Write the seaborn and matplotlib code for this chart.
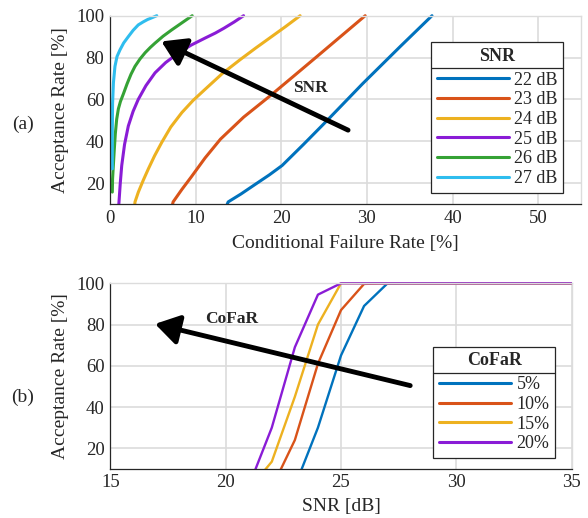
import numpy as np
import pandas as pd
import matplotlib
matplotlib.use("Agg")
import matplotlib.pyplot as plt
from matplotlib.lines import Line2D
from matplotlib.patches import Rectangle
import seaborn as sns

# ---------------- datos (a): tasa de aceptación vs. tasa de fallo condicional
snr_labels = ["22 dB", "23 dB", "24 dB", "25 dB", "26 dB", "27 dB"]

far_22 = [13.6, 13.8, 15.3, 17.0, 18.6, 20.1, 22.6, 25.3, 29.5, 33.9, 37.6]
acc_22 = [9.0, 11.0, 14.8, 19.5, 23.9, 28.4, 38.5, 49.7, 67.5, 85.3, 100.0]

far_23 = [7.2, 7.37, 8.4, 9.5, 11.1, 12.9, 15.6, 18.7, 21.5, 24.2, 27.0, 29.8]
acc_23 = [8.0, 11.0, 17.0, 23.0, 32.0, 41.0, 51.5, 61.7, 71.3, 80.6, 90.3, 100.0]

far_24 = [2.85, 2.92, 3.31, 3.9, 4.48, 5.2, 6.05, 7.1, 8.39, 9.7, 11.1, 13.1, 15.2, 17.0, 18.7, 20.5, 22.2]
acc_24 = [8.0, 11.0, 15.7, 21.5, 26.8, 33.0, 39.5, 46.8, 53.7, 59.5, 64.8, 72.3, 79.0, 84.5, 89.5, 94.8, 100.0]

far_25 = [1.0, 1.05, 1.2, 1.37, 1.7, 2.14, 2.7, 3.3, 4.2, 5.26, 6.5, 8.0, 9.5, 11.1, 12.3, 13.3, 14.5, 15.6]
acc_25 = [8.0, 11.0, 20.0, 28.4, 38.5, 47.3, 54.3, 60.0, 66.6, 72.7, 77.6, 82.2, 86.0, 89.3, 91.7, 94.0, 97.0, 100.0]

far_26 = [0.27, 0.3, 0.39, 0.5, 0.62, 0.78, 0.98, 1.22, 1.56, 2.0, 2.45, 2.92, 3.5, 4.1, 4.7, 5.26, 6.2, 7.2, 8.4, 9.6]
acc_26 = [15.7, 22.0, 28.4, 36.0, 43.5, 50.5, 55.5, 59.0, 62.6, 67.5, 72.0, 75.8, 79.3, 82.3, 84.8, 86.9, 90.2, 93.2, 96.6, 100.0]

far_27 = [0.27, 0.27, 0.3, 0.4, 0.58, 0.82, 1.17, 1.6, 2.14, 2.7, 3.3, 3.9, 4.4, 5.0, 5.46]
acc_27 = [26.8, 45.0, 58.0, 68.0, 75.8, 80.5, 83.7, 87.0, 90.0, 93.0, 95.6, 97.1, 98.2, 99.2, 100.0]

# ---------------- datos (b): tasa de aceptación vs. SNR
cofar_labels = ["5%", "10%", "15%", "20%"]
snr_db = [20, 21, 22, 23, 24, 25, 26, 27, 28, 29, 30, 31, 32, 33, 34, 35]
acc_5 = [0, 0, 0, 1.5, 30, 65, 89, 99.8, 100, 100, 100, 100, 100, 100, 100, 100]
acc_10 = [0, 0, 0.7, 24, 61, 87, 99.7, 100, 100, 100, 100, 100, 100, 100, 100, 100]
acc_15 = [0, 0, 13.5, 45, 80, 100, 100, 100, 100, 100, 100, 100, 100, 100, 100, 100]
acc_20 = [0, 1.5, 30, 69, 94.5, 100, 100, 100, 100, 100, 100, 100, 100, 100, 100, 100]

colores_a = ["#0072BD", "#D95319", "#EDB120", "#8A1CD6", "#35A235", "#2FBDEE"]
colores_b = colores_a[:4]

sns.set_style("white")
plt.rcParams["font.family"] = ["Liberation Serif", "DejaVu Serif"]
gris = "#262626"

# tablas largas para seaborn
filas = []
for lab, xs, ys in zip(snr_labels, [far_22, far_23, far_24, far_25, far_26, far_27],
                       [acc_22, acc_23, acc_24, acc_25, acc_26, acc_27]):
    for x, y in zip(xs, ys):
        filas.append({"SNR": lab, "far": x, "acc": y})
df_a = pd.DataFrame(filas)

filas = []
for lab, ys in zip(cofar_labels, [acc_5, acc_10, acc_15, acc_20]):
    for x, y in zip(snr_db, ys):
        filas.append({"CoFaR": lab, "snr": x, "acc": y})
df_b = pd.DataFrame(filas)

fig = plt.figure(figsize=(5.88, 5.18), dpi=100)
ax1 = fig.add_axes([110 / 588, 1 - 204 / 518, 471 / 588, 188.3 / 518])
ax2 = fig.add_axes([110.3 / 588, 1 - 468.9 / 518, 461.4 / 588, 185.6 / 518])

sns.lineplot(data=df_a, x="far", y="acc", hue="SNR", hue_order=snr_labels,
             palette=colores_a, sort=False, estimator=None, units="SNR",
             linewidth=2.2, ax=ax1)
sns.lineplot(data=df_b, x="snr", y="acc", hue="CoFaR", hue_order=cofar_labels,
             palette=colores_b, sort=False, estimator=None, linewidth=1.7, ax=ax2)

# recorte un poco por encima del borde superior, para que la línea en 100 se vea entera
for ax in (ax1, ax2):
    clip = Rectangle((0, 0), 1, 1.05, transform=ax.transAxes, visible=False)
    ax.add_patch(clip)
    for line in ax.lines:
        line.set_clip_path(clip)


def estilo_ejes(ax, xlim, xticks, xlabel):
    ax.set_xlim(*xlim)
    ax.set_ylim(10, 100)
    ax.set_xticks(xticks)
    ax.set_yticks([20, 40, 60, 80, 100])
    ax.grid(True, color="#dcdcdc", linewidth=1.2)
    ax.set_axisbelow(True)
    for lado in ["left", "bottom"]:
        ax.spines[lado].set_color(gris)
        ax.spines[lado].set_linewidth(0.9)
    for lado in ["top", "right"]:
        ax.spines[lado].set_color("#dcdcdc")
        ax.spines[lado].set_linewidth(1.0)
    ax.tick_params(axis="both", direction="in", length=4, width=0.8, color=gris,
                   labelcolor=gris, labelsize=13.5, pad=4, top=False, right=False)
    ax.set_xlabel(xlabel, fontsize=14, color=gris)
    ax.set_ylabel("Acceptance Rate [%]", fontsize=14, color=gris)


estilo_ejes(ax1, (0, 55), [0, 10, 20, 30, 40, 50], "Conditional Failure Rate [%]")
estilo_ejes(ax2, (15, 35), [15, 20, 25, 30, 35], "SNR [dB]")
ax1.yaxis.set_label_coords(-0.088, 0.5)
ax2.yaxis.set_label_coords(-0.09, 0.5)
ax1.xaxis.set_label_coords(0.5, -0.162)
ax2.xaxis.set_label_coords(0.5, -0.156)

# flechas y anotaciones
flecha = dict(arrowstyle="-|>,head_length=0.8,head_width=0.5", lw=3.5, color="black",
              shrinkA=0, shrinkB=0, mutation_scale=18)
ax1.annotate("", xy=(6.0, 87.7), xytext=(27.8, 45.3), arrowprops=flecha)
ax1.text(23.4, 65.6, "SNR", fontsize=12.5, fontweight="bold", ha="center", va="center")
ax2.annotate("", xy=(16.94, 80.3), xytext=(28.0, 50.4), arrowprops=flecha)
ax2.text(20.25, 82.6, "CoFaR", fontsize=12.5, fontweight="bold", ha="center", va="center")

fig.text(23 / 588, 1 - 124 / 518, "(a)", fontsize=14, ha="center", va="center", color=gris)
fig.text(23 / 588, 1 - 397 / 518, "(b)", fontsize=14, ha="center", va="center", color=gris)

leyendas = []
for ax, titulo, ancla in [(ax1, "SNR", (0.962, 0.859)), (ax2, "CoFaR", (0.964, 0.658))]:
    h, l = ax.get_legend_handles_labels()
    leg = ax.legend(h, l, title=titulo, loc="upper right", bbox_to_anchor=ancla,
                    borderaxespad=0, fontsize=13, title_fontsize=13, frameon=True,
                    fancybox=False, framealpha=1, edgecolor=gris, handlelength=4.0,
                    handletextpad=0.3, labelspacing=0.15, borderpad=0.3)
    leg.get_frame().set_linewidth(0.9)
    leg.get_title().set_fontweight("bold")
    for line in leg.get_lines():
        line.set_linewidth(2.2)
    for t in leg.get_texts():
        t.set_color(gris)
    leg._legend_box.sep = 5
    leyendas.append(leg)

# línea separadora bajo el título de la leyenda
fig.canvas.draw()
r = fig.canvas.get_renderer()
W, H = fig.bbox.width, fig.bbox.height
for leg in leyendas:
    bb = leg.get_frame().get_window_extent(r)
    tb = leg.get_title().get_window_extent(r)
    eb = leg.get_texts()[0].get_window_extent(r)
    y = (tb.y0 + eb.y1) / 2
    fig.add_artist(Line2D([bb.x0 / W, bb.x1 / W], [y / H, y / H],
                          transform=fig.transFigure, color=gris, linewidth=0.9))

fig.savefig("out.png", dpi=100)
